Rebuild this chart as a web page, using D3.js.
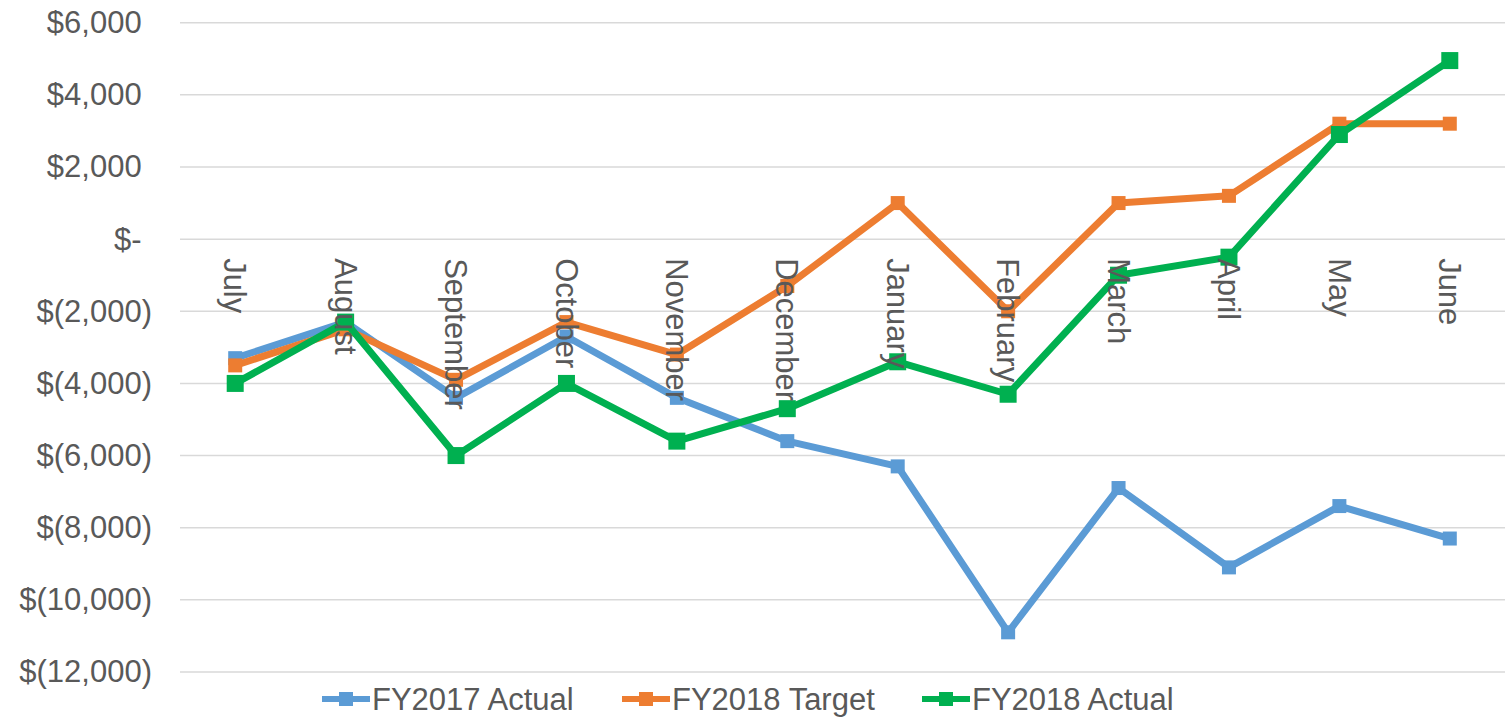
<!DOCTYPE html>
<html>
<head>
<meta charset="utf-8">
<script src="https://cdn.jsdelivr.net/npm/d3@7"></script>
<style>
    html, body { margin: 0; padding: 0; background: #fff; }
    svg { display: block; font-family: "Liberation Sans", Arial, sans-serif; }
</style>
</head>
<body>
<div id="chart"></div>
<script>
// Months of the fiscal year
const months = ['July', 'August', 'September', 'October', 'November', 'December',
    'January', 'February', 'March', 'April', 'May', 'June'];

// Series values (dollars)
const fy2017Actual = [-3300, -2300, -4400, -2700, -4400, -5600, -6300, -10900, -6900, -9100, -7400, -8300];
const fy2018Target = [-3500, -2500, -3900, -2300, -3200, -1300, 1000, -2000, 1000, 1200, 3200, 3200];
const fy2018Actual = [-4000, -2300, -6000, -4000, -5600, -4700, -3400, -4300, -1000, -500, 2900, 4950];

const yTicks = [6000, 4000, 2000, 0, -2000, -4000, -6000, -8000, -10000, -12000];

const series = [
    {name: 'FY2017 Actual', values: fy2017Actual, color: '#5B9BD5', size: 14},
    {name: 'FY2018 Target', values: fy2018Target, color: '#ED7D31', size: 14},
    {name: 'FY2018 Actual', values: fy2018Actual, color: '#00B050', size: 17}
];

const W = 1512, H = 718;
const plot = {left: 180, right: 1505, top: 22.7, bottom: 672};
const textColor = '#595959';
const fontSize = 31;

const svg = d3.select('#chart').append('svg')
    .attr('width', W)
    .attr('height', H);

const x = d3.scalePoint()
    .domain(months)
    .range([plot.left, plot.right])
    .padding(0.5);

const y = d3.scaleLinear()
    .domain([-12000, 6000])
    .range([plot.bottom, plot.top]);

// accounting style: negatives in brackets, zero as "$-"
const fmt = v => {
    if (v === 0) return '$-';
    const s = d3.format(',')(Math.abs(v));
    return v < 0 ? `$(${s})` : `$${s}`;
};

// Gridlines
svg.append('g')
    .selectAll('line')
    .data(yTicks)
    .enter().append('line')
    .attr('x1', plot.left)
    .attr('x2', plot.right)
    .attr('y1', d => y(d))
    .attr('y2', d => y(d))
    .attr('stroke', '#D9D9D9')
    .attr('stroke-width', 1.5);

// Y axis labels
const yAxis = svg.append('g')
    .attr('transform', `translate(${plot.left - 28},0)`)
    .call(d3.axisLeft(y).tickValues(yTicks).tickFormat(fmt).tickSize(0).tickPadding(0));
yAxis.select('.domain').remove();
yAxis.selectAll('text')
    .attr('fill', textColor)
    .attr('dx', d => d < 0 ? 0 : '-0.333em')
    .style('font-size', fontSize + 'px')
    .style('font-family', '"Liberation Sans", Arial, sans-serif');

// Lines and markers
const line = d3.line()
    .x((d, i) => x(months[i]))
    .y(d => y(d));

series.forEach(s => {
    const g = svg.append('g');
    g.append('path')
        .attr('d', line(s.values))
        .attr('fill', 'none')
        .attr('stroke', s.color)
        .attr('stroke-width', 7)
        .attr('stroke-linejoin', 'round');
    g.selectAll('rect')
        .data(s.values)
        .enter().append('rect')
        .attr('x', (d, i) => x(months[i]) - s.size / 2)
        .attr('y', d => y(d) - s.size / 2)
        .attr('width', s.size)
        .attr('height', s.size)
        .attr('fill', s.color);
});

// Category labels, rotated, just below the zero line
svg.append('g')
    .selectAll('text')
    .data(months)
    .enter().append('text')
    .attr('transform', d => `translate(${x(d)},${y(0) + 19}) rotate(90)`)
    .attr('dy', '0.35em')
    .attr('text-anchor', 'start')
    .attr('fill', textColor)
    .style('font-size', fontSize + 'px')
    .text(d => d);

// Legend
const legendX = [322, 622, 922];
const legend = svg.append('g')
    .attr('transform', 'translate(0,699)');

series.forEach((s, i) => {
    const item = legend.append('g')
        .attr('transform', `translate(${legendX[i]},0)`);
    item.append('line')
        .attr('x1', 0)
        .attr('x2', 48)
        .attr('stroke', s.color)
        .attr('stroke-width', 6);
    item.append('rect')
        .attr('x', 24 - 7)
        .attr('y', -7)
        .attr('width', 14)
        .attr('height', 14)
        .attr('fill', s.color);
    item.append('text')
        .attr('x', 50)
        .attr('dy', '0.35em')
        .attr('fill', textColor)
        .style('font-size', fontSize + 'px')
        .text(s.name);
});
</script>
</body>
</html>
